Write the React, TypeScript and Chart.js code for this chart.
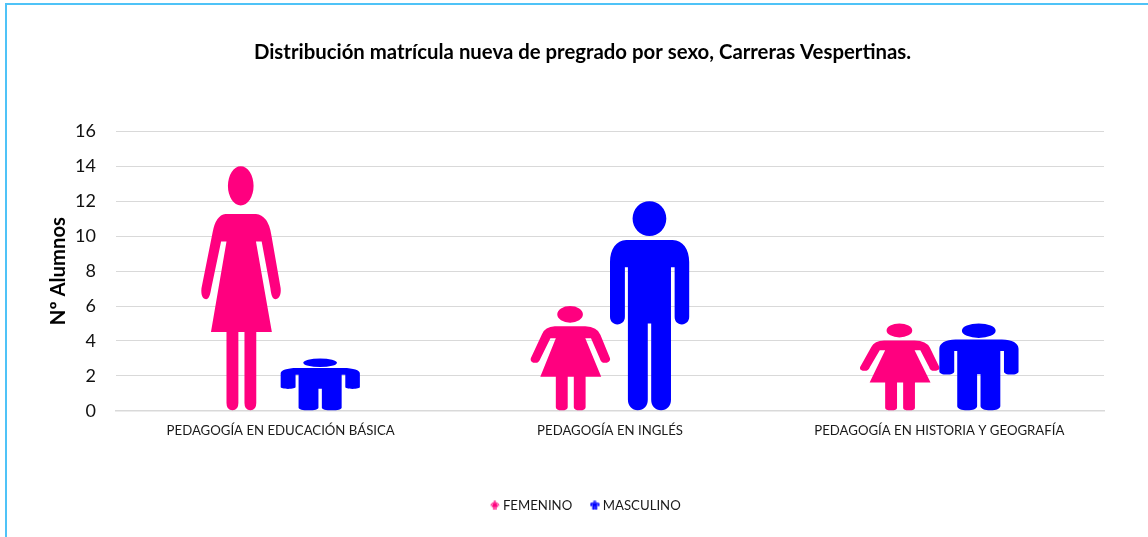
import React, { useEffect, useRef } from "react";
import { Chart, registerables } from "chart.js";

Chart.register(...registerables);

const categories = ["PEDAGOGÍA EN EDUCACIÓN BÁSICA", "PEDAGOGÍA EN INGLÉS", "PEDAGOGÍA EN HISTORIA Y GEOGRAFÍA"];
const femenino = [14, 6, 5];
const masculino = [3, 12, 5];
const titleText = "Distribución matrícula nueva de pregrado por sexo, Carreras Vespertinas.";
const yTitle = "Nº Alumnos";
const PINK = "#ff007f";
const BLUE = "#0000ff";
const FONT = "Lato, 'Open Sans', sans-serif";

type Ctx = CanvasRenderingContext2D;

function womanPath(c: Ctx, x: number, y: number, w: number, h: number) {
  const X = (v: number) => x + v * w;
  const Y = (v: number) => y + v * h;
  c.beginPath();
  c.ellipse(X(0.496), Y(0.08), 0.162 * w, 0.08 * h, 0, 0, Math.PI * 2);
  c.closePath();
  c.moveTo(X(0.303), Y(0.195));
  c.lineTo(X(0.688), Y(0.195));
  c.quadraticCurveTo(X(0.84), Y(0.2), X(0.88), Y(0.277));
  c.lineTo(X(1), Y(0.5));
  c.bezierCurveTo(X(1.01), Y(0.53), X(0.97), Y(0.545), X(0.935), Y(0.545));
  c.bezierCurveTo(X(0.9), Y(0.545), X(0.88), Y(0.53), X(0.87), Y(0.5));
  c.lineTo(X(0.76), Y(0.308));
  c.lineTo(X(0.688), Y(0.308));
  c.lineTo(X(0.889), Y(0.679));
  c.lineTo(X(0.692), Y(0.679));
  c.lineTo(X(0.692), Y(0.97));
  c.quadraticCurveTo(X(0.692), Y(1), X(0.618), Y(1));
  c.quadraticCurveTo(X(0.543), Y(1), X(0.543), Y(0.97));
  c.lineTo(X(0.543), Y(0.679));
  c.lineTo(X(0.466), Y(0.679));
  c.lineTo(X(0.466), Y(0.97));
  c.quadraticCurveTo(X(0.466), Y(1), X(0.391), Y(1));
  c.quadraticCurveTo(X(0.316), Y(1), X(0.316), Y(0.97));
  c.lineTo(X(0.316), Y(0.679));
  c.lineTo(X(0.12), Y(0.679));
  c.lineTo(X(0.316), Y(0.308));
  c.lineTo(X(0.248), Y(0.308));
  c.lineTo(X(0.124), Y(0.5));
  c.bezierCurveTo(X(0.11), Y(0.53), X(0.09), Y(0.545), X(0.06), Y(0.545));
  c.bezierCurveTo(X(0.02), Y(0.545), X(-0.01), Y(0.53), X(0), Y(0.5));
  c.lineTo(X(0.141), Y(0.27));
  c.quadraticCurveTo(X(0.18), Y(0.2), X(0.303), Y(0.195));
  c.closePath();
}

function manPath(c: Ctx, x: number, y: number, w: number, h: number) {
  const X = (v: number) => x + v * w;
  const Y = (v: number) => y + v * h;
  c.beginPath();
  c.ellipse(X(0.498), Y(0.083), 0.213 * w, 0.083 * h, 0, 0, Math.PI * 2);
  c.closePath();
  c.moveTo(X(0.205), Y(0.185));
  c.lineTo(X(0.79), Y(0.185));
  c.bezierCurveTo(X(0.92), Y(0.185), X(1), Y(0.23), X(1), Y(0.29));
  c.lineTo(X(1), Y(0.553));
  c.bezierCurveTo(X(1), Y(0.575), X(0.96), Y(0.589), X(0.908), Y(0.589));
  c.bezierCurveTo(X(0.85), Y(0.589), X(0.816), Y(0.575), X(0.816), Y(0.553));
  c.lineTo(X(0.816), Y(0.316));
  c.lineTo(X(0.77), Y(0.316));
  c.lineTo(X(0.77), Y(0.95));
  c.bezierCurveTo(X(0.77), Y(0.98), X(0.72), Y(1), X(0.645), Y(1));
  c.bezierCurveTo(X(0.57), Y(1), X(0.52), Y(0.98), X(0.52), Y(0.95));
  c.lineTo(X(0.52), Y(0.585));
  c.lineTo(X(0.477), Y(0.585));
  c.lineTo(X(0.477), Y(0.95));
  c.bezierCurveTo(X(0.477), Y(0.98), X(0.43), Y(1), X(0.35), Y(1));
  c.bezierCurveTo(X(0.28), Y(1), X(0.226), Y(0.98), X(0.226), Y(0.95));
  c.lineTo(X(0.226), Y(0.316));
  c.lineTo(X(0.188), Y(0.316));
  c.lineTo(X(0.188), Y(0.553));
  c.bezierCurveTo(X(0.188), Y(0.575), X(0.15), Y(0.589), X(0.092), Y(0.589));
  c.bezierCurveTo(X(0.04), Y(0.589), X(0), Y(0.575), X(0), Y(0.553));
  c.lineTo(X(0), Y(0.29));
  c.bezierCurveTo(X(0), Y(0.23), X(0.08), Y(0.185), X(0.205), Y(0.185));
  c.closePath();
}

function legendIcon(path: typeof womanPath, color: string) {
  const cv = document.createElement("canvas");
  cv.width = 10;
  cv.height = 10;
  const c = cv.getContext("2d") as Ctx;
  c.fillStyle = color;
  path(c, 0.5, 0.5, 9, 9);
  c.fill();
  return cv;
}

const pictogram = {
  id: "pictogram",
  afterLayout(chart: any) {
    chart.legend.left += 12;
    chart.legend.right += 12;
    chart.titleBlock.left += 7.5;
    chart.titleBlock.right += 7.5;
  },
  afterDatasetsDraw(chart: any) {
    const c: Ctx = chart.ctx;
    chart.data.datasets.forEach((_: any, i: number) => {
      const path = i === 0 ? womanPath : manPath;
      c.save();
      c.fillStyle = i === 0 ? PINK : BLUE;
      chart.getDatasetMeta(i).data.forEach((bar: any) => {
        const p = bar.getProps(["x", "y", "base", "width"], true);
        path(c, p.x - p.width / 2, p.y, p.width, p.base - p.y);
        c.fill();
      });
      c.restore();
    });
  },
};

export default function App() {
  const ref = useRef<HTMLCanvasElement>(null);
  useEffect(() => {
    const chart = new Chart(ref.current as HTMLCanvasElement, {
      type: "bar",
      plugins: [pictogram],
      data: {
        labels: categories,
        datasets: [
          { label: "FEMENINO", data: femenino, backgroundColor: "rgba(0,0,0,0)", pointStyle: legendIcon(womanPath, PINK) as any },
          { label: "MASCULINO", data: masculino, backgroundColor: "rgba(0,0,0,0)", pointStyle: legendIcon(manPath, BLUE) as any },
        ],
      },
      options: {
        animation: false,
        responsive: false,
        layout: { padding: { left: 46, right: 44, top: 0, bottom: 15 } },
        datasets: { bar: { categoryPercentage: 0.481, barPercentage: 1 } },
        plugins: {
          tooltip: { enabled: false },
          title: {
            display: true,
            text: titleText,
            color: "#000",
            font: { family: FONT, size: 20.35, weight: "bold" },
            padding: { top: 40, bottom: 67 },
          },
          legend: {
            position: "bottom",
            labels: {
              usePointStyle: true,
              color: "#1a1a1a",
              font: { family: FONT, size: 13.2 },
              boxWidth: 3,
              boxHeight: 10,
              padding: 21,
            },
          },
        },
        scales: {
          x: {
            grid: { display: false },
            border: { color: "#d9d9d9", width: 1.5 },
            ticks: { color: "#1a1a1a", font: { family: FONT, size: 13.2 }, maxRotation: 0, padding: 4 },
            afterFit: (s: any) => { s.height = 67; },
          },
          y: {
            min: 0,
            max: 16,
            border: { display: false },
            grid: { color: "#d9d9d9", drawTicks: false, lineWidth: 1 },
            ticks: { stepSize: 2, color: "#111", font: { family: FONT, size: 18 }, padding: 20 },
            title: { display: true, text: yTitle, color: "#000", font: { family: FONT, size: 20.3, weight: "bold" }, padding: 0 },
            afterFit: (s: any) => { s.width = 70; },
          },
        },
      },
    } as any);
    return () => chart.destroy();
  }, []);
  return (
    <div style={{ position: "absolute", left: 0, top: 0, width: 1148, height: 537, background: "#fff", overflow: "hidden" }}>
      <canvas ref={ref} width={1148} height={537} style={{ display: "block" }} />
      <div style={{ position: "absolute", left: 5, top: 3, width: 1180, height: 600, border: "2px solid #4fc3f7", boxSizing: "border-box" }} />
    </div>
  );
}
